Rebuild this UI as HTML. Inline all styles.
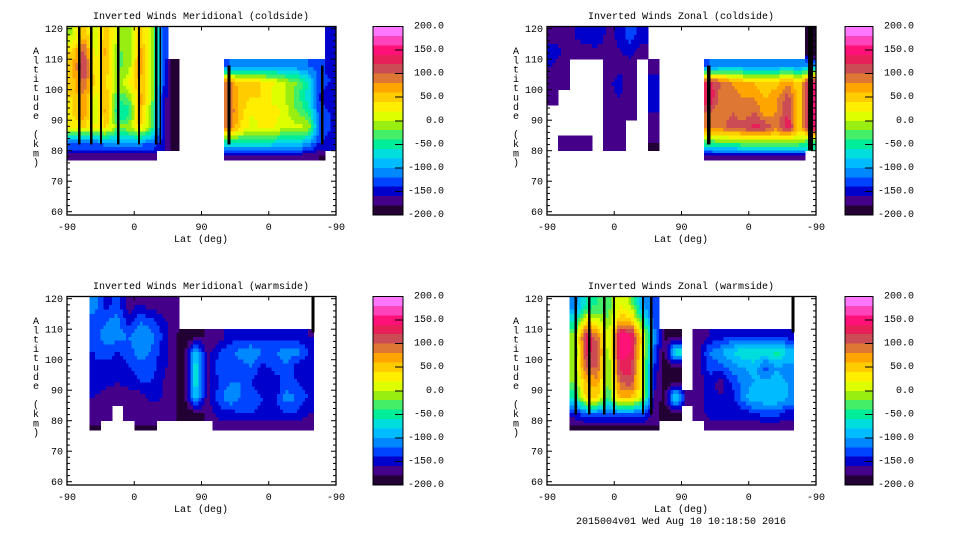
<!DOCTYPE html>
<html><head><meta charset="utf-8">
<style>
html,body{margin:0;padding:0;background:#fff;}
svg{display:block;font-family:"Liberation Mono","DejaVu Sans Mono",monospace;}
</style></head>
<body>
<svg id="chart" width="960" height="540" viewBox="0 0 960 540" xmlns="http://www.w3.org/2000/svg"></svg>
<script>
// ---- data ----
const N = null;
const colorLevels = [200,180,160,140,120,100,80,60,40,20,0,-20,-40,-60,-80,-100,-120,-140,-160,-180];
const cbLabels = ["200.0","150.0","100.0","50.0","0.0","-50.0","-100.0","-150.0","-200.0"];
const xTickLabels = ["-90","0","90","0","-90"];
const yTickLabels = [120,110,100,90,80,70,60];
const altEdges = [121,115,110,105,100,95,90,85,80,77];
const panelTitles = ["Inverted Winds Meridional (coldside)","Inverted Winds Zonal (coldside)","Inverted Winds Meridional (warmside)","Inverted Winds Zonal (warmside)"];
// grids: columns (15 deg each of 360 path), each column lists 9 altitude rows (top to bottom)
const gridMerCold = [
 [0,40,60,50,40,40,20,-120,-170],[60,110,130,100,80,80,40,-120,-170],[0,10,20,40,10,0,20,-120,-170],
 [60,70,60,40,60,70,40,-110,-170],[0,-20,-30,-10,-40,-60,-20,-110,-170],[-10,-20,-10,20,-20,-60,0,-110,-170],
 [50,70,80,60,70,70,40,-110,-170],[10,10,0,10,0,-20,-20,-120,-170],[-130,-130,-120,-130,-140,-140,-140,-150,N],
 [N,N,-195,-195,-195,-195,-195,-195,N],[N,N,N,N,N,N,N,N,N],[N,N,N,N,N,N,N,N,N],[N,N,N,N,N,N,N,N,N],[N,N,N,N,N,N,N,N,N],
 [N,N,-120,90,90,100,90,-60,-170],[N,N,-100,40,50,50,40,-60,-170],[N,N,-100,60,40,20,10,-60,-170],
 [N,N,-100,30,40,30,30,-60,-170],[N,N,-100,20,10,30,20,-70,-170],[N,N,-110,0,0,10,0,-80,-170],
 [N,N,-110,-20,-30,-20,10,-80,-170],[N,N,-120,-60,-70,-40,0,-100,-170],[N,N,-130,-130,-140,-130,-120,-140,-180],
 [-150,-150,-150,-140,-160,-140,-140,-150,N]
];
const gridZonCold = [
 [-170,-150,-160,-170,-175,N,N,N,N],[-170,-160,-170,-175,N,N,N,-175,N],[-160,-175,N,N,N,N,N,-175,N],
 [-140,-175,N,N,N,N,N,-175,N],[-140,-170,N,N,N,N,N,N,N],[-170,-175,-175,-165,-165,-170,-175,-175,N],
 [-150,-160,-170,-150,-160,-175,-175,-175,N],[-130,-150,-175,-175,-175,-175,N,N,N],[-150,-175,N,N,N,N,N,N,N],
 [N,N,-170,-150,-150,-160,-170,-180,N],[N,N,N,N,N,N,N,N,N],[N,N,N,N,N,N,N,N,N],[N,N,N,N,N,N,N,N,N],[N,N,N,N,N,N,N,N,N],
 [N,N,-120,130,140,100,90,-40,-170],[N,N,-100,100,90,90,90,-30,-170],[N,N,-100,80,90,100,110,-30,-170],
 [N,N,-100,60,80,90,110,-20,-170],[N,N,-100,60,80,100,130,-20,-170],[N,N,-100,40,60,70,120,-20,-170],
 [N,N,-100,50,80,80,90,-20,-170],[N,N,-100,80,110,120,140,-20,-170],[N,N,-100,40,40,40,40,-20,-170],
 [-200,-200,-100,150,150,150,150,-50,N]
];
const gridMerWarm = [
 [N,N,N,N,N,N,N,N,N],[N,N,N,N,N,N,N,N,N],[-110,-130,-130,-140,-140,-150,-160,-175,-180],
 [-150,-120,-110,-130,-150,-150,-175,-175,N],[-130,-110,-110,-140,-150,-160,-175,N,N],[-170,-150,-120,-130,-140,-150,-175,-175,N],
 [-160,-120,-100,-110,-130,-140,-175,-175,-180],[-170,-130,-110,-120,-130,-140,-150,-175,-180],[-175,-150,-140,-150,-150,-160,-160,-175,N],
 [-175,-175,-175,-175,-175,-175,-175,-175,N],[N,N,-190,-190,-190,-190,-190,-190,N],[N,N,-190,-80,-60,-60,-80,-190,N],
 [N,N,-175,-170,-170,-170,-170,-175,N],[N,N,-175,-140,-130,-140,-130,-150,-175],[N,N,-150,-130,-130,-120,-100,-150,-175],
 [N,N,-150,-110,-130,-120,-120,-140,-175],[N,N,-150,-100,-120,-140,-120,-140,-175],[N,N,-150,-120,-150,-160,-140,-150,-175],
 [N,N,-150,-120,-130,-160,-150,-150,-175],[N,N,-150,-110,-120,-130,-110,-140,-175],[N,N,-150,-110,-150,-140,-120,-140,-175],
 [N,N,-160,-140,-160,-150,-140,-160,-175],[N,N,N,N,N,N,N,N,N],[N,N,N,N,N,N,N,N,N]
];
const gridZonWarm = [
 [N,N,N,N,N,N,N,N,N],[N,N,N,N,N,N,N,N,N],[-110,-60,-10,-20,-10,-20,-60,-150,-180],
 [-60,40,140,130,100,60,50,-120,-180],[-40,10,90,110,100,70,40,-120,-180],[-30,-20,0,-20,-20,-30,-40,-120,-180],
 [20,60,160,150,130,100,60,-120,-180],[-10,60,150,140,130,110,60,-120,-180],[-100,-40,30,20,10,20,0,-120,-180],
 [-130,-130,-100,-120,-140,-150,-160,-170,-180],[N,N,-180,-190,-190,-190,-190,-190,N],[N,N,-190,-60,-190,-190,-60,-190,N],
 [N,N,N,N,N,N,-175,N,N],[N,N,-175,-170,-170,-175,-175,-175,N],[N,N,-160,-120,-130,-150,-150,-150,-175],
 [N,N,-150,-100,-130,-170,-160,-150,-175],[N,N,-140,-80,-110,-140,-150,-150,-175],[N,N,-140,-60,-100,-110,-110,-150,-175],
 [N,N,-140,-60,-90,-100,-80,-140,-175],[N,N,-140,-60,-130,-90,-80,-130,-175],[N,N,-140,-50,-100,-90,-80,-130,-175],
 [N,N,-150,-80,-110,-100,-100,-150,-175],[N,N,N,N,N,N,N,N,N],[N,N,N,N,N,N,N,N,N]
];
// dense contour strips: [pathDeg, altTop, altBottom, widthDeg]
const stripsMerCold = [[15,121,82,3],[31,121,82,3],[44,121,82,3],[67,121,82,3],[95,121,82,3],[118,121,82,3],[124,121,82,2],[215,108,82,4],[340,108,82,3]];
const stripsZonCold = [[214,108,82,5],[349,121,80,7]];
const stripsMerWarm = [[327,121,109,4]];
const stripsZonWarm = [[37,121,82,3],[55,121,82,3],[75,121,82,3],[88,121,82,3],[127,121,82,3],[138,121,82,3],[327,121,109,4]];

const palette = ["#ff77ff","#ff44bb","#ff1177","#e8205a","#cc4c55","#dd7733","#ffa500","#ffcc00","#ffee00","#ddff00","#99ee11","#44ee66","#00ee99","#00dddd","#00bbff","#0088ff","#0044ff","#0000cc","#440088","#220033"];

const panels = [
 {ox:0, oy:0, cbx:373, cbw:30, lblx:444, title:panelTitles[0], grid:gridMerCold, strips:stripsMerCold, name:"meridional-coldside"},
 {ox:480, oy:0, cbx:845, cbw:28, lblx:914, title:panelTitles[1], grid:gridZonCold, strips:stripsZonCold, name:"zonal-coldside"},
 {ox:0, oy:270, cbx:373, cbw:30, lblx:444, title:panelTitles[2], grid:gridMerWarm, strips:stripsMerWarm, name:"meridional-warmside"},
 {ox:480, oy:270, cbx:845, cbw:28, lblx:914, title:panelTitles[3], grid:gridZonWarm, strips:stripsZonWarm, name:"zonal-warmside"}
];

const NS = "http://www.w3.org/2000/svg";
const svg = document.getElementById("chart");
function mk(tag, attrs, parent){ const e=document.createElementNS(NS,tag); for(const k in attrs) e.setAttribute(k,attrs[k]); (parent||svg).appendChild(e); return e; }
function colorFor(v){ let i=Math.floor((200-v)/20); if(i<0)i=0; if(i>19)i=19; return palette[i]; }

const BX0=67, BX1=336, BY0=26.5, BY1=215;
function xScale(ox,u){ return ox+BX0+u*(BX1-BX0)/360; }
function yScale(oy,alt){ return oy+28.7+(120-alt)*3.05; }

function sample(grid, fc, fr){
  const c0=Math.floor(fc), r0=Math.floor(fr);
  let sw=0, sv=0;
  for(let dc=0;dc<2;dc++) for(let dr=0;dr<2;dr++){
    const c=c0+dc, r=r0+dr;
    if(c<0||c>=grid.length||r<0||r>=grid[0].length) continue;
    const v=grid[c][r]; if(v===null) continue;
    const w=(dc?fc-c0:1-(fc-c0))*(dr?fr-r0:1-(fr-r0));
    sw+=w; sv+=w*v;
  }
  return sw>0?sv/sw:null;
}
const SUB=4;

panels.forEach(function(p){
  const g = mk("g",{});
  
  
  const clipId = "clip-"+p.name;
  const cp = mk("clipPath",{id:clipId},g);
  mk("rect",{x:p.ox+BX0,y:p.oy+BY0,width:BX1-BX0,height:BY1-BY0},cp);
  const cells = mk("g",{"clip-path":"url(#"+clipId+")","shape-rendering":"crispEdges"},g);
  
  
  p.grid.forEach(function(col,ci){
    col.forEach(function(v,ri){
      if(v===null) return;
      for(let k=0;k<SUB;k++) for(let m=0;m<SUB;m++){
        const fc=ci+(k+0.5)/SUB-0.5, fr=ri+(m+0.5)/SUB-0.5;
        const sv=sample(p.grid,fc,fr); if(sv===null) continue;
        const u0=ci*15+k*15/SUB, u1=u0+15/SUB;
        const a0=altEdges[ri]+(altEdges[ri+1]-altEdges[ri])*m/SUB;
        const a1=altEdges[ri]+(altEdges[ri+1]-altEdges[ri])*(m+1)/SUB;
        const x0=xScale(p.ox,u0), x1=xScale(p.ox,u1);
        const y0=yScale(p.oy,a0), y1=yScale(p.oy,a1);
        const r=mk("rect",{x:x0,y:y0,width:x1-x0+0.5,height:y1-y0+0.5,fill:colorFor(sv)},cells);
        
        
      }
    });
  });
  p.strips.forEach(function(s){
    const x0=xScale(p.ox,s[0]), x1=xScale(p.ox,s[0]+s[3]);
    const y0=yScale(p.oy,s[1]), y1=yScale(p.oy,s[2]);
    const r=mk("rect",{x:x0,y:y0,width:x1-x0,height:y1-y0,fill:"#000"},cells);
    
    
  });
  const fr=mk("rect",{x:p.ox+BX0,y:p.oy+BY0,width:BX1-BX0,height:BY1-BY0,fill:"none",stroke:"#000","stroke-width":1.3},g);
  
  
  for(let a=60;a<=120;a+=2){
    const y=yScale(p.oy,a); const len=(a%10===0)?5:3;
    mk("line",{x1:p.ox+BX0,x2:p.ox+BX0+len,y1:y,y2:y,stroke:"#000","stroke-width":1},g);
    mk("line",{x1:p.ox+BX1,x2:p.ox+BX1-len,y1:y,y2:y,stroke:"#000","stroke-width":1},g);
  }
  yTickLabels.forEach(function(a){
    const t=mk("text",{x:p.ox+63,y:yScale(p.oy,a)+3.5,"font-size":10,"text-anchor":"end"},g);
    t.textContent=a;
    
    
  });
  xTickLabels.forEach(function(l,i){
    const x=xScale(p.ox,i*90);
    mk("line",{x1:x,x2:x,y1:p.oy+BY1,y2:p.oy+BY1-4,stroke:"#000"},g);
    mk("line",{x1:x,x2:x,y1:p.oy+BY0,y2:p.oy+BY0+4,stroke:"#000"},g);
    const t=mk("text",{x:x,y:p.oy+230,"font-size":10,"text-anchor":"middle"},g);
    t.textContent=l;
    
    
  });
  const xt=mk("text",{x:p.ox+201,y:p.oy+242,"font-size":10,"text-anchor":"middle"},g);
  xt.textContent="Lat (deg)";
  
  
  const tt=mk("text",{x:p.ox+201,y:p.oy+19,"font-size":10,"text-anchor":"middle"},g);
  tt.textContent=p.title;
  
  
  const yt=mk("text",{x:p.ox+36,"font-size":10,"text-anchor":"middle"},g);
  
  
  "Altitude (km)".split("").forEach(function(ch,i){
    const ts=mk("tspan",{x:p.ox+36,y:p.oy+54+i*9.3},yt); ts.textContent=ch;
  });
  const cb=mk("g",{"shape-rendering":"crispEdges"},g);
  
  
  const bh=(BY1-BY0)/colorLevels.length;
  colorLevels.forEach(function(lv,i){
    const r=mk("rect",{x:p.cbx,y:p.oy+BY0+i*bh,width:p.cbw,height:bh+0.5,fill:colorFor(lv-10)},cb);
    
    
  });
  mk("rect",{x:p.cbx,y:p.oy+BY0,width:p.cbw,height:BY1-BY0,fill:"none",stroke:"#000","stroke-width":1},cb);
  cbLabels.forEach(function(l,i){
    const y=p.oy+BY0+i*(BY1-BY0)/8;
    if(i>0&&i<8) mk("line",{x1:p.cbx+p.cbw,x2:p.cbx+p.cbw-8,y1:y,y2:y,stroke:"#000"},cb);
    const t=mk("text",{x:p.lblx,y:y+2,"font-size":10,"text-anchor":"end"},g);
    t.textContent=l;
    
    
  });
});
const ft=mk("text",{x:681,y:524,"font-size":10,"text-anchor":"middle"});
ft.textContent="2015004v01 Wed Aug 10 10:18:50 2016";


</script>
</body></html>
